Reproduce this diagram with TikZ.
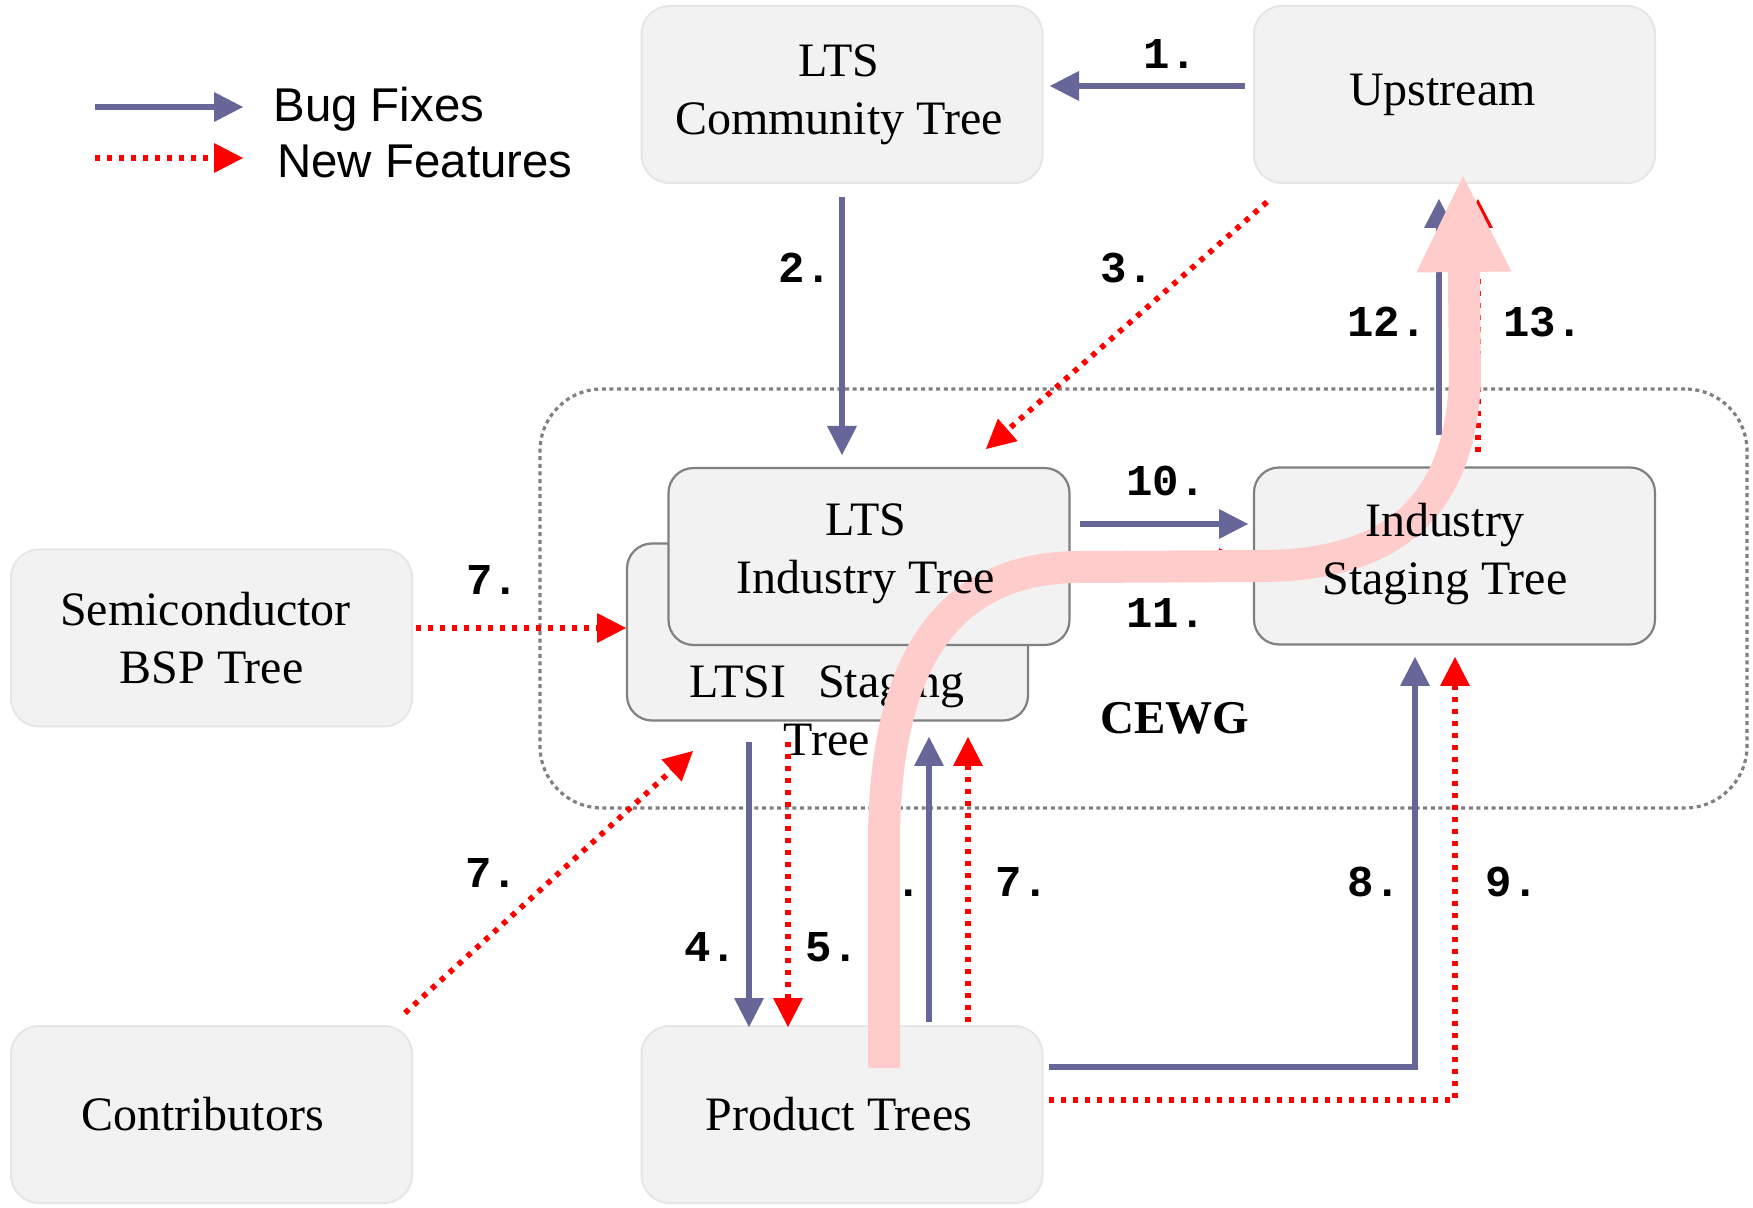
\documentclass[tikz,border=0pt]{standalone}
\usepackage{fontspec}
\setmainfont{Liberation Serif}
\setsansfont{Liberation Sans}
\setmonofont{Liberation Mono}
\usetikzlibrary{arrows.meta}
\definecolor{bugc}{HTML}{666699}
\definecolor{boxfill}{HTML}{F2F2F2}
\definecolor{lightedge}{HTML}{E6E6E6}
\definecolor{darkedge}{HTML}{808080}
\definecolor{pinkc}{HTML}{FFCCCC}
\newcommand\dgboxfont{\rmfamily\fontsize{24pt}{29pt}\selectfont}
\newcommand\dgnumfont{\ttfamily\bfseries\fontsize{22pt}{26pt}\selectfont}
\newcommand\dglegfont{\sffamily\fontsize{23.7pt}{28pt}\selectfont}
\tikzset{
  lbox/.style={draw=lightedge, line width=1pt, fill=boxfill, rounded corners=14pt,
    minimum width=200.5pt, minimum height=88.5pt, inner sep=0pt, align=center, font=\dgboxfont},
  gbox/.style={lbox, draw=darkedge, line width=1.1pt, rounded corners=12.5pt},
  dgbug/.style={draw=bugc, line width=3pt, -{Triangle[length=14.5pt,width=15pt,line width=0pt]}},
  dgfeat/.style={draw=red, line width=2.8pt, dash pattern=on 2.6pt off 3.4pt,
    -{Triangle[length=14.5pt,width=15pt,line width=0pt]}},
  dgnum/.style={font=\dgnumfont, inner sep=0pt},
  dgtext/.style={font=\dgboxfont, align=center, inner sep=0pt},
  container/.style={draw=darkedge, line width=1.6pt, dash pattern=on 2pt off 1.8pt,
    rounded corners=31pt, minimum width=603.5pt, minimum height=209.5pt, inner sep=0pt},
  pinkarrow/.style={draw=pinkc, line width=16pt, -{Triangle[length=48pt,width=47.5pt,line width=0pt]}}
}
\begin{document}
\begin{tikzpicture}[x=0.5pt, y=-0.5pt]
\useasboundingbox (0,0) rectangle (1753,1208);

% CEWG container
\node[container] (cewg) at (1143.5,598.5) {};

% boxes
\node[gbox] (ltsi) at (827.5,632) {};
\node[gbox] (ltsind) at (869,556.5) {};
\node[gbox] (indstg) at (1454.5,556) {};
\node[lbox] (comm) at (842,94.5) {LTS\hspace*{3pt}\\Community Tree\hspace*{3pt}};
\node[lbox] (up) at (1454.5,94.5) {Upstream\hspace*{12pt}};
\node[lbox] (semi) at (211.5,638) {Semiconductor\hspace*{6pt}\\BSP Tree};
\node[lbox] (contrib) at (211.5,1114.5) {Contributors\hspace*{9pt}};
\node[lbox] (prod) at (842,1114.5) {Product Trees\hspace*{3pt}};

\node[dgtext] (ltsitext) at (827,711) {LTSI\hspace{16pt}Staging\\Tree};

% connector end points
\coordinate (a1s) at (1245,86);   \coordinate (a1e) at (1050,86);
\coordinate (a2s) at (842,197);   \coordinate (a2e) at (842,455);
\coordinate (a3s) at (1267,202);  \coordinate (a3e) at (986,449);
\coordinate (a7ss) at (416,628);  \coordinate (a7se) at (626,628);
\coordinate (a7cs) at (405,1013); \coordinate (a7ce) at (693,751);
\coordinate (a4s) at (749,742);   \coordinate (a4e) at (749,1027);
\coordinate (a5s) at (788,742);   \coordinate (a5e) at (788,1027);
\coordinate (a6s) at (929,1022);  \coordinate (a6e) at (929,737);
\coordinate (a7ps) at (968,1022); \coordinate (a7pe) at (968,737);
\coordinate (a8s) at (1049,1067); \coordinate (a8e) at (1415,657);
\coordinate (a9s) at (1049,1100); \coordinate (a9e) at (1455,657);
\coordinate (a10s) at (1080,524); \coordinate (a10e) at (1248,524);
\coordinate (a11s) at (1080,563); \coordinate (a11e) at (1248,563);
\coordinate (a12s) at (1439,435); \coordinate (a12e) at (1439,199);
\coordinate (a13s) at (1478,452); \coordinate (a13e) at (1478,199);

% connectors
\draw[dgbug] (a1s) -- (a1e);
\draw[dgbug] (a2s) -- (a2e);
\draw[dgfeat] (a3s) -- (a3e);
\draw[dgfeat] (a7ss) -- (a7se);
\draw[dgfeat] (a7cs) -- (a7ce);
\draw[dgbug] (a4s) -- (a4e);
\draw[dgfeat] (a5s) -- (a5e);
\draw[dgbug] (a6s) -- (a6e);
\draw[dgfeat] (a7ps) -- (a7pe);
\draw[dgbug] (a8s) -| (a8e);
\draw[dgfeat] (a9s) -| (a9e);
\draw[dgbug] (a10s) -- (a10e);
\draw[dgfeat] (a11s) -- (a11e);
\draw[dgbug] (a12s) -- (a12e);
\draw[dgfeat] (a13s) -- (a13e);

% number labels
\node[dgnum] (n1) at (1170,54) {1.};
\node[dgnum] (n2) at (805,268) {2.};
\node[dgnum] (n3) at (1127,268) {3.};
\node[dgnum] (n7s) at (493,580) {7.};
\node[dgnum] (n7c) at (492,873) {7.};
\node[dgnum] (n4) at (711,947) {4.};
\node[dgnum] (n5) at (832,947) {5.};
\node[dgnum] (n6) at (895,882) {6.};
\node[dgnum] (n7p) at (1022,882) {7.};
\node[dgnum] (n8) at (1374,882) {8.};
\node[dgnum] (n9) at (1512,882) {9.};
\node[dgnum] (n10) at (1166,481) {10.};
\node[dgnum] (n11) at (1166,613) {11.};
\node[dgnum] (n12) at (1387,322) {12.};
\node[dgnum] (n13) at (1543,322) {13.};

% big pink path
\coordinate (pk0) at (884,1068);
\coordinate (pk1) at (884,840);
\coordinate (pk2) at (1080,567);
\coordinate (pk3) at (1260,566);
\coordinate (pk4) at (1465,380);
\coordinate (pk5) at (1463,176);
\draw[pinkarrow] (pk0) -- (pk1) .. controls (885,680) and (935,567) .. (pk2)
  -- (pk3) .. controls (1400,566) and (1460,500) .. (pk4) -- (pk5);

% texts above the pink path
\node[dgtext] (ltsindtext) at (866,554) {LTS\\Industry Tree};
\node[dgtext] (indstgtext) at (1445,554) {Industry\\Staging Tree};
\node[font=\rmfamily\bfseries\fontsize{23.5pt}{28pt}\selectfont, inner sep=0pt] (cewglabel) at (1175,718) {CEWG};

% legend
\coordinate (lb1) at (95,107);  \coordinate (lb2) at (243,107);
\coordinate (lf1) at (95,158);  \coordinate (lf2) at (243,158);
\draw[dgbug] (lb1) -- (lb2);
\draw[dgfeat] (lf1) -- (lf2);
\node[font=\dglegfont, anchor=base west, inner sep=0pt] (legbug) at (273,122) {Bug Fixes};
\node[font=\dglegfont, anchor=base west, inner sep=0pt] (legfeat) at (277,178) {New Features};
\end{tikzpicture}
\end{document}
